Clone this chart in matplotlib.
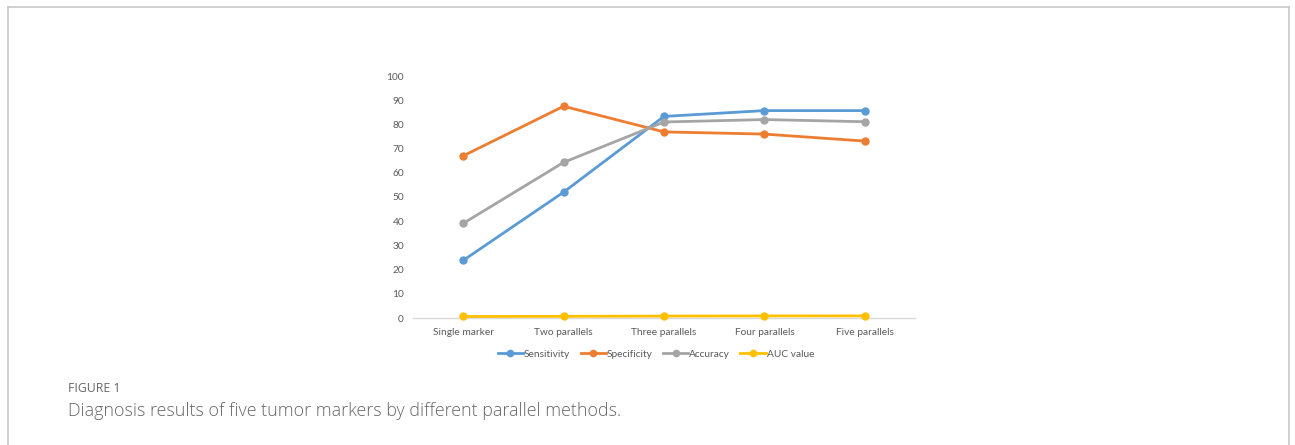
import matplotlib.pyplot as plt
from matplotlib.lines import Line2D

plt.rcParams['font.family'] = ['Lato', 'DejaVu Sans']

categories = ['Single marker', 'Two parallels', 'Three parallels', 'Four parallels', 'Five parallels']
sensitivity = [23.8, 52.0, 83.3, 85.7, 85.7]
specificity = [67.0, 87.5, 76.9, 76.0, 73.1]
accuracy = [39.1, 64.3, 81.0, 82.0, 81.1]
auc_value = [0.62, 0.69, 0.80, 0.86, 0.87]
yticks = list(range(0, 101, 10))

series = [
    ('Sensitivity', sensitivity, '#5B9BD5'),
    ('Specificity', specificity, '#ED7D31'),
    ('Accuracy', accuracy, '#A5A5A5'),
    ('AUC value', auc_value, '#FFC000'),
]

W, H = 1295, 445
fig = plt.figure(figsize=(W / 100, H / 100), dpi=100, facecolor='white')
ax = fig.add_axes([413 / W, 1 - 318 / H, (915 - 413) / W, (318 - 76) / H])

x = range(len(categories))
for name, vals, color in series:
    ax.plot(x, vals, '-o', color=color, lw=2.0, ms=5, label=name, clip_on=False)

ax.set_xlim(-0.5, len(categories) - 0.5)
ax.set_ylim(0, 100)
ax.set_yticks(yticks)
ax.set_xticks(list(x))
ax.set_xticklabels(categories)
ax.tick_params(axis='both', length=0, labelsize=7.3, labelcolor='#595959')
ax.tick_params(axis='y', pad=6.5)
ax.tick_params(axis='x', pad=7)
for side in ['top', 'right', 'left']:
    ax.spines[side].set_visible(False)
ax.spines['bottom'].set_color('#D9D9D9')
ax.spines['bottom'].set_linewidth(1.0)
ax.spines['bottom'].set_zorder(0)

leg = fig.legend(loc='center', bbox_to_anchor=(656 / W, 1 - 354 / H), ncol=4, frameon=False,
                 fontsize=7.3, handlelength=2.5, handletextpad=0.1, columnspacing=1.0,
                 markerscale=0.9)
for t in leg.get_texts():
    t.set_color('#595959')

# panel border (top, left, right)
border = '#C8C8C8'
fig.add_artist(Line2D([8 / W, 1289 / W], [1 - 7 / H, 1 - 7 / H], color=border, lw=1.2, transform=fig.transFigure))
fig.add_artist(Line2D([8 / W, 8 / W], [0, 1 - 7 / H], color=border, lw=1.2, transform=fig.transFigure))
fig.add_artist(Line2D([1289 / W, 1289 / W], [0, 1 - 7 / H], color=border, lw=1.2, transform=fig.transFigure))

fig.text(68 / W, 1 - 388 / H, 'FIGURE 1', fontsize=8.8, color='#666666', va='center',
         family=['Open Sans', 'DejaVu Sans'])
fig.text(68 / W, 1 - 411 / H, 'Diagnosis results of five tumor markers by different parallel methods.',
         fontsize=12.9, color='#666666', va='center', family=['Open Sans', 'DejaVu Sans'], fontweight='light')

fig.savefig('out.png', dpi=100, facecolor='white')
